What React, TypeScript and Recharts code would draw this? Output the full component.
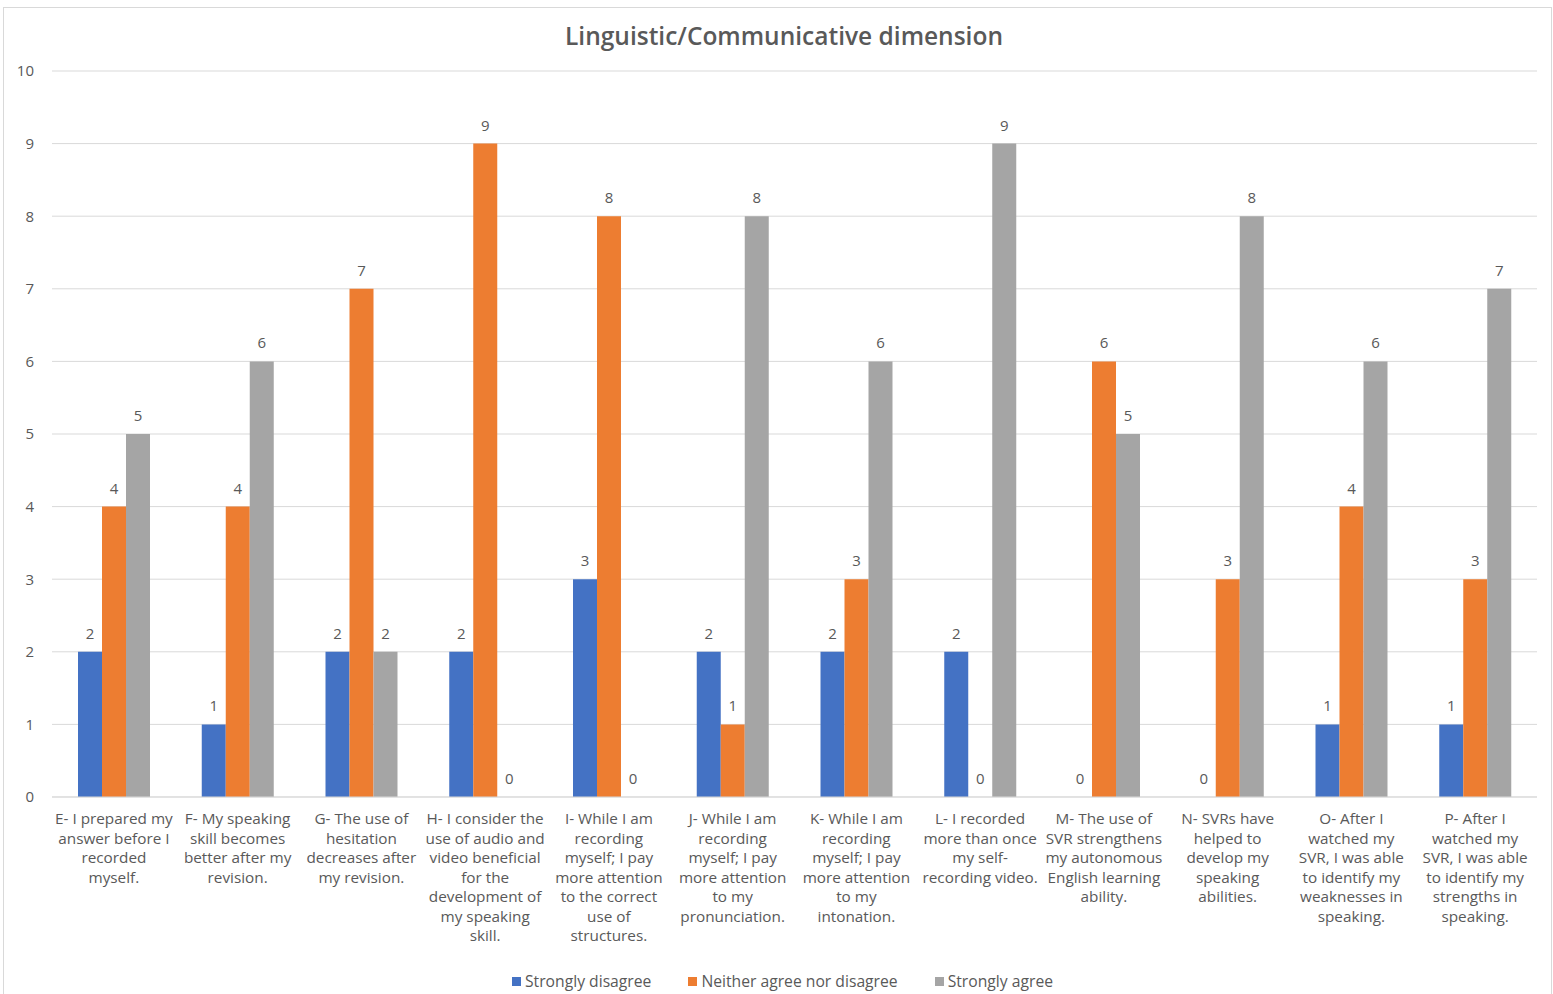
import React from "react";
import { BarChart, Bar, XAxis, YAxis, CartesianGrid, Legend, LabelList } from "recharts";

const categories = ["E", "F", "G", "H", "I", "J", "K", "L", "M", "N", "O", "P"];
const categoryLines: string[][] = [
  ["E- I prepared my", "answer before I", "recorded", "myself."],
  ["F- My speaking", "skill becomes", "better after my", "revision."],
  ["G- The use of", "hesitation", "decreases after", "my revision."],
  ["H- I consider the", "use of audio and", "video beneficial", "for the", "development of", "my speaking", "skill."],
  ["I- While I am", "recording", "myself; I pay", "more attention", "to the correct", "use of", "structures."],
  ["J- While I am", "recording", "myself; I pay", "more attention", "to my", "pronunciation."],
  ["K- While I am", "recording", "myself; I pay", "more attention", "to my", "intonation."],
  ["L- I recorded", "more than once", "my self-", "recording video."],
  ["M- The use of", "SVR strengthens", "my autonomous", "English learning", "ability."],
  ["N- SVRs have", "helped to", "develop my", "speaking", "abilities."],
  ["O- After I", "watched my", "SVR, I was able", "to identify my", "weaknesses in", "speaking."],
  ["P- After I", "watched my", "SVR, I was able", "to identify my", "strengths in", "speaking."],
];
const stronglyDisagree = [2, 1, 2, 2, 3, 2, 2, 2, 0, 0, 1, 1];
const neither = [4, 4, 7, 9, 8, 1, 3, 0, 6, 3, 4, 3];
const stronglyAgree = [5, 6, 2, 0, 0, 8, 6, 9, 5, 8, 6, 7];
const yTicks = [0, 1, 2, 3, 4, 5, 6, 7, 8, 9, 10];

const seriesNames = ["Strongly disagree", "Neither agree nor disagree", "Strongly agree"];
const seriesColors = ["#4472C4", "#ED7D31", "#A5A5A5"];

const data = categories.map((c, i) => ({
  name: c,
  sd: stronglyDisagree[i],
  ne: neither[i],
  sa: stronglyAgree[i],
}));

const FONT = "'Open Sans', 'Noto Sans', sans-serif";
const TEXT = "#595959";

const CatTick = (props: any) => {
  const { x, y, payload } = props;
  const idx = categories.indexOf(payload.value);
  const lines = categoryLines[idx] || [];
  return (
    <text x={x} y={y} textAnchor="middle" fill={TEXT} fontSize={15.3} fontFamily={FONT}>
      {lines.map((l, i) => (
        <tspan key={i} x={x} dy={i === 0 ? 19 : 19.5}>
          {l}
        </tspan>
      ))}
    </text>
  );
};

const ValueLabel = (props: any) => {
  const { x, y, width, value } = props;
  return (
    <text x={x + width / 2} y={y - 13} textAnchor="middle" fill={TEXT} fontSize={15} fontFamily={FONT}>
      {value}
    </text>
  );
};

const LegendContent = () => (
  <div style={{ display: "flex", justifyContent: "center", height: 30, alignItems: "center", fontFamily: FONT, fontSize: 15.7, color: TEXT, paddingLeft: 24 }}>
    {seriesNames.map((n, i) => (
      <div key={n} style={{ display: "flex", alignItems: "center", marginRight: i < 2 ? 37 : 0 }}>
        <span style={{ display: "inline-block", width: 9, height: 9, background: seriesColors[i], marginRight: 4 }} />
        <span>{n}</span>
      </div>
    ))}
  </div>
);

export default function App() {
  return (
    <div
      style={{
        position: "absolute",
        left: 3,
        top: 7,
        width: 1549,
        height: 990,
        border: "1px solid #d9d9d9",
        background: "#fff",
        boxSizing: "border-box",
      }}
    >
      <div
        style={{
          position: "absolute",
          left: 0,
          width: 1560,
          top: 11,
          textAlign: "center",
          fontFamily: FONT,
          fontWeight: 600,
          fontSize: 24.5,
          color: TEXT,
        }}
      >
        Linguistic/Communicative dimension
      </div>
      <BarChart
        width={1547}
        height={988}
        data={data}
        margin={{ top: 63, right: 14, bottom: 0, left: 0 }}
        barGap={0}
        barSize={24}
      >
        <CartesianGrid vertical={false} stroke="#d9d9d9" />
        <XAxis
          dataKey="name"
          interval={0}
          height={169}
          tickLine={false}
          axisLine={{ stroke: "#d9d9d9" }}
          tick={<CatTick />}
        />
        <YAxis
          width={48}
          domain={[0, 10]}
          ticks={yTicks}
          interval={0}
          axisLine={false}
          tickLine={false}
          tickSize={0}
          tickMargin={18}
          tick={{ fill: TEXT, fontSize: 15, fontFamily: FONT }}
        />
        <Legend verticalAlign="bottom" content={<LegendContent />} />
        <Bar dataKey="sd" name={seriesNames[0]} fill={seriesColors[0]} minPointSize={0.01} isAnimationActive={false}>
          <LabelList dataKey="sd" content={<ValueLabel />} />
        </Bar>
        <Bar dataKey="ne" name={seriesNames[1]} fill={seriesColors[1]} minPointSize={0.01} isAnimationActive={false}>
          <LabelList dataKey="ne" content={<ValueLabel />} />
        </Bar>
        <Bar dataKey="sa" name={seriesNames[2]} fill={seriesColors[2]} minPointSize={0.01} isAnimationActive={false}>
          <LabelList dataKey="sa" content={<ValueLabel />} />
        </Bar>
      </BarChart>
    </div>
  );
}
